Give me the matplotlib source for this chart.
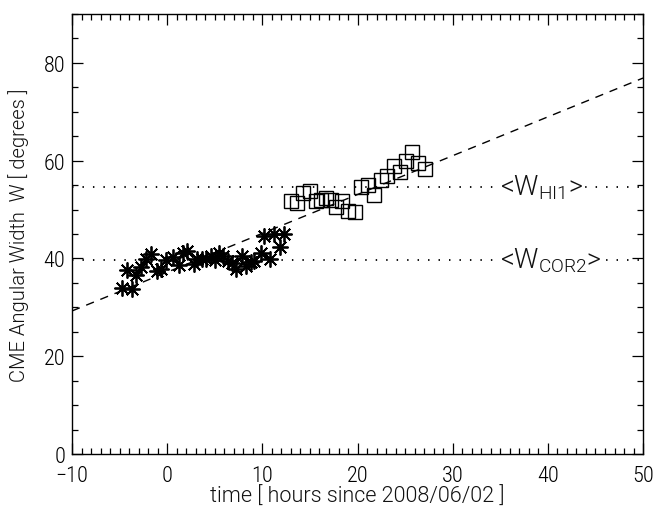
import matplotlib
matplotlib.use("Agg")
import matplotlib.pyplot as plt
from matplotlib.ticker import MultipleLocator
import numpy as np

plt.rcParams['font.family'] = ['Roboto Condensed', 'DejaVu Sans']
plt.rcParams['font.weight'] = 'light'
plt.rcParams['mathtext.default'] = 'regular'

LABEL_FONT = ['Roboto', 'DejaVu Sans']
LABEL_WEIGHT = 300

# COR2 measurements (asterisks)
cor2_time = [-4.78, -3.73, -4.25, -3.28, -2.78, -2.22, -1.73, -1.10, -0.68, -0.15,
             0.58, 1.27, 1.69, 2.12, 2.82, 3.17, 3.63, 4.08, 4.57, 5.03,
             5.48, 5.83, 6.42, 6.78, 7.23, 7.83, 8.28, 8.78, 9.12, 9.83,
             10.17, 10.81, 11.23, 11.86, 12.28]
cor2_width = [33.9, 33.7, 37.6, 36.7, 38.3, 39.9, 41.0, 37.4, 37.8, 39.7,
              40.3, 38.6, 41.2, 41.5, 38.8, 39.9, 39.8, 39.9, 40.6, 39.7,
              41.2, 40.5, 39.4, 39.0, 37.9, 40.5, 38.4, 39.2, 39.4, 41.2,
              44.6, 39.8, 44.9, 42.4, 45.1]

# HI1 measurements (squares)
hi1_time = [12.96, 13.69, 14.32, 15.01, 15.59, 16.11, 16.69, 17.21, 17.74, 18.37,
            19.00, 19.74, 20.37, 21.05, 21.73, 22.42, 23.10, 23.83, 24.41, 25.04,
            25.73, 26.36, 27.09]
hi1_width = [51.8, 51.3, 53.3, 53.7, 51.8, 52.0, 52.3, 52.0, 50.5, 51.7,
             49.7, 49.5, 54.7, 55.1, 53.0, 56.1, 56.8, 58.9, 57.6, 60.0,
             61.8, 59.5, 58.2]

# Linear fit W = a + b t and mean widths
fit_intercept = 37.2
fit_slope = 0.794
mean_cor2 = 39.7
mean_hi1 = 54.7

fig = plt.figure(figsize=(6.65, 5.10), dpi=100)
ax = fig.add_axes([0.1083, 0.1078, 0.8587, 0.8628])

xlim = (-10, 50)
ylim = (0, 90)

ax.plot(cor2_time, cor2_width, linestyle='none', marker=(8, 2, 0),
        markersize=11.5, markeredgewidth=1.3, color='black')
ax.plot(hi1_time, hi1_width, linestyle='none', marker='s', markersize=10.5,
        markerfacecolor='none', markeredgecolor='black', markeredgewidth=1.0)

tfit = np.array(xlim, dtype=float)
ax.plot(tfit, fit_intercept + fit_slope * tfit, color='black', lw=1.0,
        linestyle=(0, (6, 5)))

for m in (mean_cor2, mean_hi1):
    ax.axhline(m, color='black', lw=1.3, linestyle=(0, (0.8, 5)))

for m, name in ((mean_hi1, 'HI1'), (mean_cor2, 'COR2')):
    ax.text(35.0, m - 1.6, r'<$W_{%s}$>' % name, fontsize=19.5, ha='left',
            va='baseline', family=LABEL_FONT, weight=LABEL_WEIGHT,
            color='#111111',
            bbox=dict(facecolor='white', edgecolor='none', pad=0.5))

ax.set_xlim(*xlim)
ax.set_ylim(*ylim)
ax.xaxis.set_major_locator(MultipleLocator(10))
ax.xaxis.set_minor_locator(MultipleLocator(1))
ax.yaxis.set_major_locator(MultipleLocator(20))
ax.yaxis.set_minor_locator(MultipleLocator(5))
ax.tick_params(which='both', direction='in', top=True, right=True,
               labelsize=16, width=0.9)
ax.tick_params(which='major', length=8)
ax.tick_params(axis='x', which='major', pad=8)
ax.tick_params(axis='y', which='major', pad=5)
ax.tick_params(which='minor', length=4)
for s in ax.spines.values():
    s.set_linewidth(1.0)

ax.set_xticklabels([f'{v:g}'.replace('-', '\u2212') for v in ax.get_xticks()])

ax.set_xlabel('time [ hours since 2008/06/02 ]', fontsize=15.5, labelpad=0,
              family=LABEL_FONT, weight=LABEL_WEIGHT, color='#111111')
ax.set_ylabel('CME Angular Width  W [ degrees ]', fontsize=14.5, labelpad=10,
              family=LABEL_FONT, weight=LABEL_WEIGHT, color='#111111')

fig.savefig('out.png', dpi=100)
